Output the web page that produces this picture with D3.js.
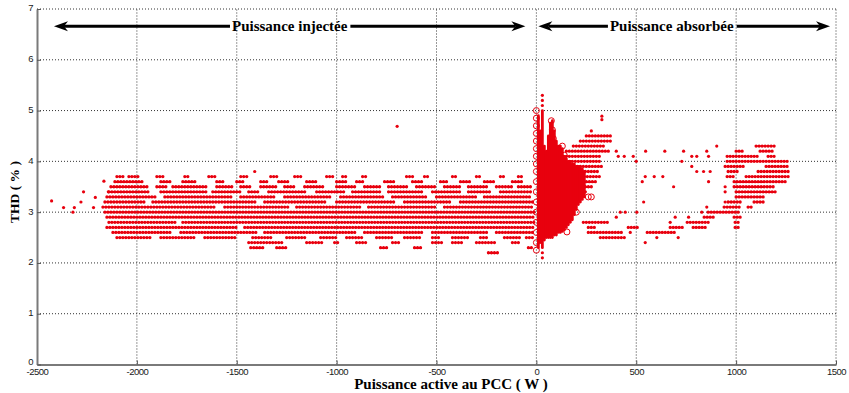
<!DOCTYPE html>
<html>
<head>
<meta charset="utf-8">
<script src="https://cdn.jsdelivr.net/npm/d3@7"></script>
<style>
  body { margin: 0; background: #fff; }
  svg { display: block; font-family: "Liberation Sans", Arial, sans-serif; }
  .title { font-family: "Liberation Serif", "Times New Roman", serif; font-weight: bold; fill: #000; }
  .tick text { font-size: 9.5px; fill: #1a1a1a; letter-spacing: -0.5px; }
</style>
</head>
<body>
<svg id="chart" width="849" height="393"></svg>
<script>
const xTicks = [-2500, -2000, -1500, -1000, -500, 0, 500, 1000, 1500];
const yTicks = [0, 1, 2, 3, 4, 5, 6, 7];

// runs of samples on one THD level: [THD %, P from, P to]
const injectedRuns = [
  [3.7,-2100,-2060],[3.7,-2040,-1990],[3.7,-1900,-1870],[3.7,-1760,-1740],[3.7,-1640,-1610],[3.7,-1480,-1450],
  [3.7,-1330,-1300],[3.7,-1210,-1180],[3.7,-1050,-1020],[3.7,-970,-950],[3.7,-870,-850],[3.7,-650,-620],
  [3.7,-560,-540],[3.7,-420,-400],[3.7,-300,-280],[3.7,-180,-160],[3.7,-90,-70],
  [3.6,-2110,-1960],[3.6,-1880,-1820],[3.6,-1770,-1700],[3.6,-1600,-1560],[3.6,-1500,-1460],[3.6,-1380,-1340],
  [3.6,-1290,-1230],[3.6,-1150,-1100],[3.6,-1000,-940],[3.6,-900,-860],[3.6,-760,-700],[3.6,-620,-560],
  [3.6,-480,-440],[3.6,-380,-320],[3.6,-260,-200],[3.6,-120,-60],
  [3.5,-2130,-1940],[3.5,-1900,-1850],[3.5,-1820,-1640],[3.5,-1600,-1520],[3.5,-1480,-1420],[3.5,-1380,-1300],
  [3.5,-1260,-1200],[3.5,-1160,-1060],[3.5,-1000,-900],[3.5,-860,-780],[3.5,-740,-640],[3.5,-600,-500],
  [3.5,-460,-380],[3.5,-340,-240],[3.5,-200,-120],[3.5,-90,-20],
  [3.4,-2140,-1930],[3.4,-1880,-1650],[3.4,-1620,-1480],[3.4,-1440,-1380],[3.4,-1340,-1150],[3.4,-1100,-950],
  [3.4,-920,-780],[3.4,-740,-560],[3.4,-520,-380],[3.4,-340,-220],[3.4,-180,-20],
  [3.3,-2150,-1900],[3.3,-1860,-1520],[3.3,-1480,-1300],[3.3,-1260,-1020],[3.3,-980,-760],[3.3,-720,-540],
  [3.3,-500,-300],[3.3,-260,-20],
  [3.2,-2160,-1960],[3.2,-1920,-1400],[3.2,-1360,-1050],[3.2,-1000,-700],[3.2,-660,-420],[3.2,-380,-15],
  [3.1,-2170,-1600],[3.1,-1560,-1240],[3.1,-1200,-880],[3.1,-840,-500],[3.1,-460,-10],
  [3.0,-2160,-10],
  [2.9,-2150,-10],
  [2.8,-2140,-1800],[2.8,-1770,-10],
  [2.7,-2150,-1500],[2.7,-1460,-10],
  [2.6,-2120,-1820],[2.6,-1780,-1400],[2.6,-1360,-900],[2.6,-860,-560],[2.6,-520,-240],[2.6,-200,-10],
  [2.5,-2100,-1920],[2.5,-1880,-1700],[2.5,-1660,-1500],[2.5,-1420,-1320],[2.5,-1250,-1150],[2.5,-1080,-1000],
  [2.5,-950,-870],[2.5,-800,-720],[2.5,-660,-580],[2.5,-520,-480],[2.5,-420,-340],[2.5,-280,-240],
  [2.5,-160,-80],[2.5,-50,-10],
  [2.4,-1440,-1260],[2.4,-1150,-1070],[2.4,-1010,-990],[2.4,-900,-840],[2.4,-720,-680],[2.4,-520,-470],
  [2.4,-420,-360],[2.4,-300,-200],[2.4,-120,-80],
  [2.3,-1430,-1360],[2.3,-1300,-1250],[2.3,-780,-740],[2.3,-610,-580],[2.3,-40,-20],
  [2.2,-240,-190]
];

const absorbedRuns = [
  [4.6,275,285],
  [4.5,250,380],
  [4.4,220,375],
  [4.3,185,345],[4.3,1100,1195],
  [4.2,150,370],[4.2,1000,1040],[4.2,1120,1190],
  [4.1,120,320],[4.1,955,1110],[4.1,1160,1205],
  [4.0,120,330],[4.0,955,1270],
  [3.9,130,340],[3.9,945,1040],[3.9,1150,1270],
  [3.8,140,320],[3.8,960,1020],[3.8,1110,1270],
  [3.7,150,330],[3.7,955,1000],[3.7,1050,1270],
  [3.6,160,300],[3.6,990,1250],
  [3.5,170,280],[3.5,990,1200],
  [3.4,200,260],[3.4,1000,1210],
  [3.3,1000,1150],
  [3.2,960,1030],[3.2,1090,1140],
  [3.1,940,1020],[3.1,1060,1080],
  [3.0,860,1020],
  [2.9,840,900],[2.9,990,1020],
  [2.8,235,370],[2.8,755,870],[2.8,995,1010],
  [2.7,260,300],[2.7,460,520],[2.7,670,745],[2.7,785,855],[2.7,995,1010],
  [2.6,260,435],[2.6,555,700],
  [2.5,320,445]
];

// single samples: [P, THD %]
const isolated = [
  [-2427,3.22],[-2367,3.09],[-2313,3.09],[-2320,3.0],[-2280,3.2],[-2267,3.4],[-2217,3.09],[-2208,3.29],
  [-2165,3.61],[-2143,3.4],[-1410,3.8],[-697,4.69],
  [328,4.89],[328,4.82],[400,4.2],[410,4.1],[440,4.1],[485,4.1],[500,4.0],[547,4.2],[643,4.2],[737,4.2],
  [853,4.2],[903,4.3],[778,4.1],[803,4.1],[862,4.1],[728,4.0],[545,3.7],[590,3.7],[633,3.7],[778,3.9],
  [803,3.8],[837,3.8],[870,3.8],[862,3.6],[687,3.5],[530,3.6],[537,3.2],[828,3.0],[853,3.1],
  [945,3.5],[945,3.4],[945,3.2],[420,3.0],[445,3.0],[503,3.0],[400,2.9],[670,2.8],[695,2.9],[762,2.9],
  [545,2.4],[603,2.5],[710,2.5],[470,2.6],[30,5.3],[30,5.2],[30,5.1],[30,2.1],[30,2.2]
];

// dense cloud next to zero: [P, THD low, THD high]
const clusterCols = [
  [10,2.3,4.9],[20,2.4,4.6],[30,2.3,5.0],[40,2.45,4.3],[50,2.5,4.2],[60,2.5,4.5],[70,2.5,4.75],
  [80,2.5,4.8],[90,2.55,4.6],[100,2.55,4.4],[110,2.6,4.3],[120,2.6,4.3],[130,2.62,4.25],[140,2.65,4.1],
  [150,2.7,4.05],[160,2.75,4.0],[170,2.8,4.0],[180,2.85,3.95],[190,2.95,3.95],[200,3.05,3.9],
  [210,3.15,3.9],[220,3.2,3.9],[230,3.25,3.85],[240,3.3,3.8]
];

// open-circle samples: [P, THD %]
const rings = [
  [0,5.0],[0,4.85],[0,4.7],[0,4.55],[0,4.4],[0,4.25],[0,4.1],[0,3.95],[0,3.8],[0,3.6],[0,3.4],[0,3.2],
  [0,3.0],[0,2.8],[0,2.6],[0,2.4],[0,2.25],[75,4.8],[80,4.62],[85,4.45],[130,4.3],[140,4.12],
  [78,2.61],[153,2.61],[260,3.3],[275,3.3],[120,2.7],[200,3.0]
];

const arrowLabels = ['Puissance injectée', 'Puissance absorbée'];
const arrowSpans = [[-2415, -55], [10, 1470]];
const arrowLabelAt = [-1235, 678];
const arrowLevel = 6.66;

const red = '#e8000e';
const svg = d3.select('#chart');

const x = d3.scaleLinear().domain([-2500, 1500]).range([37, 836]);
const y = d3.scaleLinear().domain([0, 7]).range([364.5, 9]);

// grid
const grid = svg.append('g')
  .attr('stroke', '#333')
  .attr('stroke-width', 1)
  .attr('stroke-dasharray', '1,2');

grid.selectAll('line.v')
  .data(xTicks.slice(1))
  .enter()
  .append('line')
  .attr('x1', d => x(d)).attr('x2', d => x(d))
  .attr('y1', y(0)).attr('y2', y(7));

grid.selectAll('line.h')
  .data(yTicks.slice(1))
  .enter()
  .append('line')
  .attr('x1', x(-2500)).attr('x2', x(1500))
  .attr('y1', d => y(d)).attr('y2', d => y(d));

// samples
const dots = svg.append('g');

dots.selectAll('line.run')
  .data(injectedRuns.concat(absorbedRuns))
  .enter()
  .append('line')
  .attr('x1', d => x(d[1]))
  .attr('x2', d => x(d[2]) + 0.01)
  .attr('y1', d => y(d[0]))
  .attr('y2', d => y(d[0]))
  .attr('stroke', red)
  .attr('stroke-width', 3.3)
  .attr('stroke-linecap', 'round')
  .attr('stroke-dasharray', '0,3');

dots.selectAll('line.col')
  .data(clusterCols)
  .enter()
  .append('line')
  .attr('x1', d => x(d[0]))
  .attr('x2', d => x(d[0]))
  .attr('y1', d => y(d[1]))
  .attr('y2', d => y(d[2]))
  .attr('stroke', red)
  .attr('stroke-width', 2.8)
  .attr('stroke-linecap', 'round');

dots.selectAll('circle.pt')
  .data(isolated)
  .enter()
  .append('circle')
  .attr('cx', d => x(d[0]))
  .attr('cy', d => y(d[1]))
  .attr('r', 1.6)
  .attr('fill', red);

dots.selectAll('circle.ring')
  .data(rings)
  .enter()
  .append('circle')
  .attr('cx', d => x(d[0]))
  .attr('cy', d => y(d[1]))
  .attr('r', 3)
  .attr('fill', 'none')
  .attr('stroke', red)
  .attr('stroke-width', 1);

// axes
const xAxis = svg.append('g')
  .attr('transform', `translate(0, ${y(0)})`)
  .call(d3.axisBottom(x).tickValues(xTicks).tickFormat(d => String(d)).tickSize(-4).tickSizeOuter(0).tickPadding(4));

const yAxis = svg.append('g')
  .attr('transform', `translate(${x(-2500)}, 0)`)
  .call(d3.axisLeft(y).tickValues(yTicks).tickFormat(d => String(d)).tickSize(-4).tickSizeOuter(0).tickPadding(4));

[xAxis, yAxis].forEach(a => {
  a.select('.domain').attr('stroke', '#7a7a7a').attr('stroke-width', 2);
  a.selectAll('.tick line').attr('stroke', '#555');
});
yAxis.selectAll('.tick text').attr('dy', '0.2em');
yAxis.selectAll('.tick text').filter(d => d === 0).attr('dy', '0.05em');

// arrows with labels
const head = 'M0,0 L-14,-5 L-10,0 L-14,5 Z';
arrowLabels.forEach((lbl, i) => {
  const g = svg.append('g');
  const ya = y(arrowLevel);
  const t = g.append('text')
    .attr('class', 'title')
    .attr('x', x(arrowLabelAt[i]))
    .attr('y', ya + 5)
    .attr('text-anchor', 'middle')
    .attr('font-size', '15px')
    .text(lbl);
  const w = t.node().getComputedTextLength();
  const x0 = x(arrowSpans[i][0]);
  const x1 = x(arrowSpans[i][1]);
  const tl = x(arrowLabelAt[i]) - w / 2 - 2;
  const tr = x(arrowLabelAt[i]) + w / 2 + 3;
  g.append('line').attr('x1', x0 + 10).attr('x2', tl).attr('y1', ya).attr('y2', ya)
    .attr('stroke', '#000').attr('stroke-width', 3);
  g.append('line').attr('x1', tr).attr('x2', x1 - 10).attr('y1', ya).attr('y2', ya)
    .attr('stroke', '#000').attr('stroke-width', 3);
  g.append('path').attr('d', head).attr('transform', `translate(${x0},${ya}) rotate(180)`);
  g.append('path').attr('d', head).attr('transform', `translate(${x1},${ya})`);
});

// axis titles
svg.append('text')
  .attr('class', 'title')
  .attr('x', 451)
  .attr('y', 389)
  .attr('text-anchor', 'middle')
  .attr('font-size', '15px')
  .text('Puissance active au PCC ( W )');

svg.append('text')
  .attr('class', 'title')
  .attr('transform', 'translate(19, 192) rotate(-90)')
  .attr('text-anchor', 'middle')
  .attr('font-size', '13.5px')
  .text('THD ( % )');
</script>
</body>
</html>
